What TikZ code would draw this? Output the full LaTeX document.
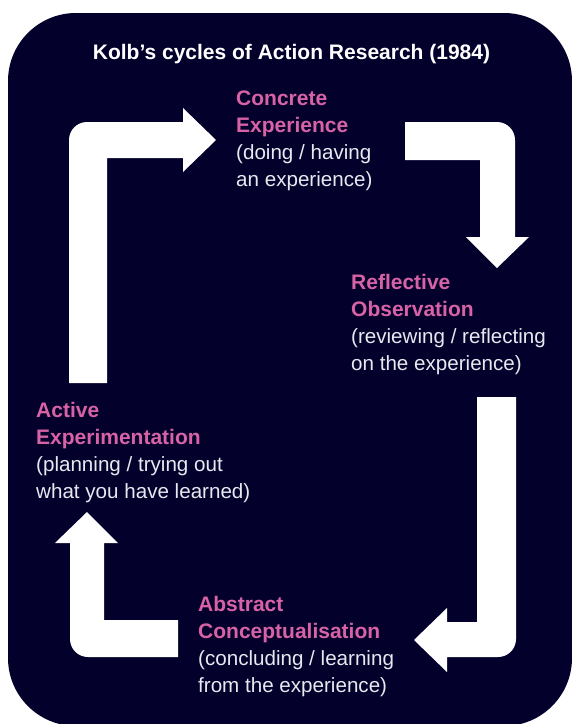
\documentclass[tikz,border=0pt]{standalone}
\usepackage{fontspec}
\setmainfont{Liberation Sans}
\definecolor{navy}{HTML}{03012C}
\definecolor{kpink}{HTML}{D862A6}
\definecolor{kgrey}{HTML}{E8E8F0}
\newcommand{\stagehead}[1]{{\bfseries\fontsize{21}{26.8}\selectfont\color{kpink}#1}}
\begin{document}
\begin{tikzpicture}[x=1pt,y=-1pt,
  stage/.style={anchor=base west, inner sep=0pt, align=left, text=kgrey,
    font=\fontsize{20.6}{26.8}\selectfont},
  bigarrow/.style={fill=white, draw=none}]
\useasboundingbox (0,0) rectangle (572,724);
\clip (0,0) rectangle (572,724);
\fill[white] (0,0) rectangle (572,724);
\fill[navy, rounded corners=68pt] (8,13) rectangle (572,726);
\node[anchor=base, inner sep=0pt, text=white, font=\bfseries\fontsize{21}{24}\selectfont] (title) at (291.5,59) {Kolb’s cycles of Action Research (1984)};
% arrows
\fill[bigarrow] (69,383) -- (69,140) .. controls (69,130.06) and (77.06,122) .. (87,122) -- (183,122) -- (183,108) -- (216,140) -- (183,172) -- (183,158) -- (107,158) -- (107,383) -- cycle;
\fill[bigarrow] (405,122) -- (497,122) .. controls (506.94,122) and (515,130.06) .. (515,140) -- (515,237) -- (529,237) -- (497,268) -- (466,237) -- (480,237) -- (480,160) -- (405,160) -- cycle;
\fill[bigarrow] (477,397) -- (516,397) -- (516,639) .. controls (516,648.94) and (507.94,657) .. (498,657) -- (447,657) -- (447,672) -- (414,640) -- (447,608) -- (447,622) -- (477,622) -- cycle;
\fill[bigarrow] (178,620) -- (178,657) -- (88,657) .. controls (78.06,657) and (70,648.94) .. (70,639) -- (70,543) -- (55,543) -- (87,512) -- (118,543) -- (104,543) -- (104,620) -- cycle;
% texts (anchored at baseline of last line)
\node[stage] (ce) at (236,186) {\stagehead{Concrete}\\\stagehead{Experience}\\(doing / having\\an experience)};
\node[stage] (ro) at (351,370) {\stagehead{Reflective}\\\stagehead{Observation}\\(reviewing / reflecting\\on the experience)};
\node[stage] (ae) at (36,498) {\stagehead{Active}\\\stagehead{Experimentation}\\(planning / trying out\\what you have learned)};
\node[stage] (ac) at (198,692) {\stagehead{Abstract}\\\stagehead{Conceptualisation}\\(concluding / learning\\from the experience)};
\end{tikzpicture}
\end{document}
